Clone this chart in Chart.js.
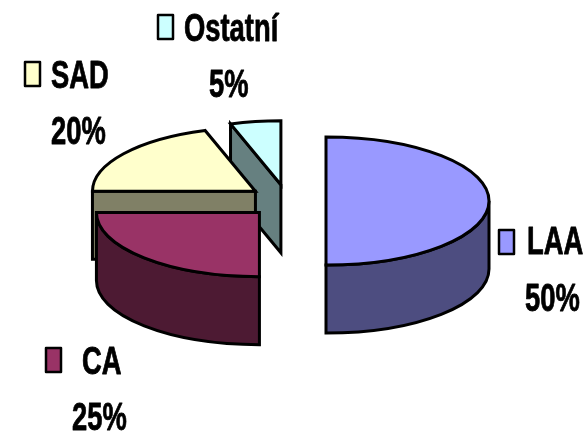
<!DOCTYPE html>
<html>
<head>
<meta charset="utf-8">
<script src="https://cdn.jsdelivr.net/npm/chart.js@4"></script>
<style>
    html, body { margin: 0; padding: 0; background: #fff; }
    canvas { display: block; }
</style>
</head>
<body>
<canvas id="chart" width="587" height="436"></canvas>
<script>
const categories = ['LAA', 'CA', 'SAD', 'Ostatní'];
const shares = [50, 25, 20, 5];
const topColors = ['#9999FF', '#993366', '#FFFFCC', '#CCFFFF'];
const sideColors = ['#4D4D80', '#4D1A33', '#808066', '#668080'];

// Where each legend entry sits: swatch box, name start, share start and both baselines
const legendSpots = [
    { box: [499, 230], nameX: 527, nameY: 254, shareX: 525, shareY: 311 },
    { box: [46, 348], nameX: 82, nameY: 374, shareX: 72, shareY: 430 },
    { box: [25, 62], nameX: 51, nameY: 88, shareX: 51, shareY: 144 },
    { box: [158, 15], nameX: 184, nameY: 41, shareX: 209, shareY: 97 }
];

const SQUASH = 0.393;
const PULL_TILT = 0.42;
const DEPTH = 68;
const LINE = 3;

function tracePoint(ctx, cx, cy, r, angle, drop) {
    ctx.lineTo(cx + Math.cos(angle) * r, cy + Math.sin(angle) * r * SQUASH + drop);
}

function fillAndStroke(ctx, color) {
    ctx.closePath();
    ctx.fillStyle = color;
    ctx.fill();
    ctx.stroke();
}

// Cut face along one radius of the wedge, going down by DEPTH
function drawCutFace(ctx, cx, cy, r, angle, color) {
    ctx.beginPath();
    ctx.moveTo(cx, cy);
    tracePoint(ctx, cx, cy, r, angle, 0);
    tracePoint(ctx, cx, cy, r, angle, DEPTH);
    ctx.lineTo(cx, cy + DEPTH);
    fillAndStroke(ctx, color);
}

// Outer wall, only the part of the rim that faces the front
function drawWall(ctx, cx, cy, r, from, to, color) {
    const a = Math.max(from, 0);
    const b = Math.min(to, Math.PI);
    if (b <= a) {
        return;
    }
    ctx.beginPath();
    ctx.ellipse(cx, cy, r, r * SQUASH, 0, a, b);
    ctx.ellipse(cx, cy + DEPTH, r, r * SQUASH, 0, b, a, true);
    fillAndStroke(ctx, color);
}

function drawWedge(ctx, arc, index) {
    const mid = (arc.startAngle + arc.endAngle) / 2;
    const offset = arc.options.offset;
    const r = arc.outerRadius;
    const cx = arc.x + Math.cos(mid) * offset;
    const cy = arc.y + Math.sin(mid) * offset * PULL_TILT;

    ctx.strokeStyle = '#000';
    ctx.lineWidth = LINE;
    ctx.lineJoin = 'miter';

    if (Math.cos(arc.startAngle) < -1e-6) {
        drawCutFace(ctx, cx, cy, r, arc.startAngle, sideColors[index]);
    }
    if (Math.cos(arc.endAngle) > 1e-6) {
        drawCutFace(ctx, cx, cy, r, arc.endAngle, sideColors[index]);
    }
    drawWall(ctx, cx, cy, r, arc.startAngle, arc.endAngle, sideColors[index]);

    ctx.beginPath();
    ctx.moveTo(cx, cy);
    ctx.ellipse(cx, cy, r, r * SQUASH, 0, arc.startAngle, arc.endAngle);
    fillAndStroke(ctx, arc.options.backgroundColor);
}

// Text is narrowed sideways, the font has no condensed cut we can rely on
function drawNarrowText(ctx, text, x, y) {
    ctx.save();
    ctx.translate(x, y);
    ctx.scale(0.72, 1);
    ctx.fillText(text, 0, 0);
    ctx.strokeText(text, 0, 0);
    ctx.restore();
}

const tiltedPie = {
    id: 'tiltedPie',
    beforeDatasetDraw: (chart, args) => {
        const arcs = chart.getDatasetMeta(args.index).data;
        // back wedges first, the front ones cover them
        for (let i = arcs.length - 1; i >= 0; i--) {
            drawWedge(chart.ctx, arcs[i], i);
        }
        return false;
    },
    afterDraw: (chart) => {
        const ctx = chart.ctx;
        ctx.save();
        ctx.font = 'bold 38px "Liberation Sans", Arial, sans-serif';
        ctx.textBaseline = 'alphabetic';
        ctx.lineJoin = 'round';
        categories.forEach((name, i) => {
            const spot = legendSpots[i];
            ctx.fillStyle = topColors[i];
            ctx.strokeStyle = '#000';
            ctx.lineWidth = 2.5;
            ctx.fillRect(spot.box[0], spot.box[1], 15, 24);
            ctx.strokeRect(spot.box[0], spot.box[1], 15, 24);
            ctx.fillStyle = '#000';
            ctx.lineWidth = 0.8;
            drawNarrowText(ctx, name, spot.nameX, spot.nameY);
            drawNarrowText(ctx, shares[i] + '%', spot.shareX, spot.shareY);
        });
        ctx.restore();
    }
};

new Chart(document.getElementById('chart'), {
    type: 'pie',
    data: {
        labels: categories,
        datasets: [{
            data: shares,
            backgroundColor: topColors,
            borderWidth: 2,
            offset: 39
        }]
    },
    options: {
        responsive: false,
        animation: false,
        events: [],
        // leaves a plot area that gives radius 163 around the pie centre
        layout: { padding: { left: 0, right: 13, top: 17.5, bottom: 51.5 } },
        plugins: {
            legend: { display: false },
            title: { display: false },
            tooltip: { enabled: false }
        }
    },
    plugins: [tiltedPie]
});
</script>
</body>
</html>
